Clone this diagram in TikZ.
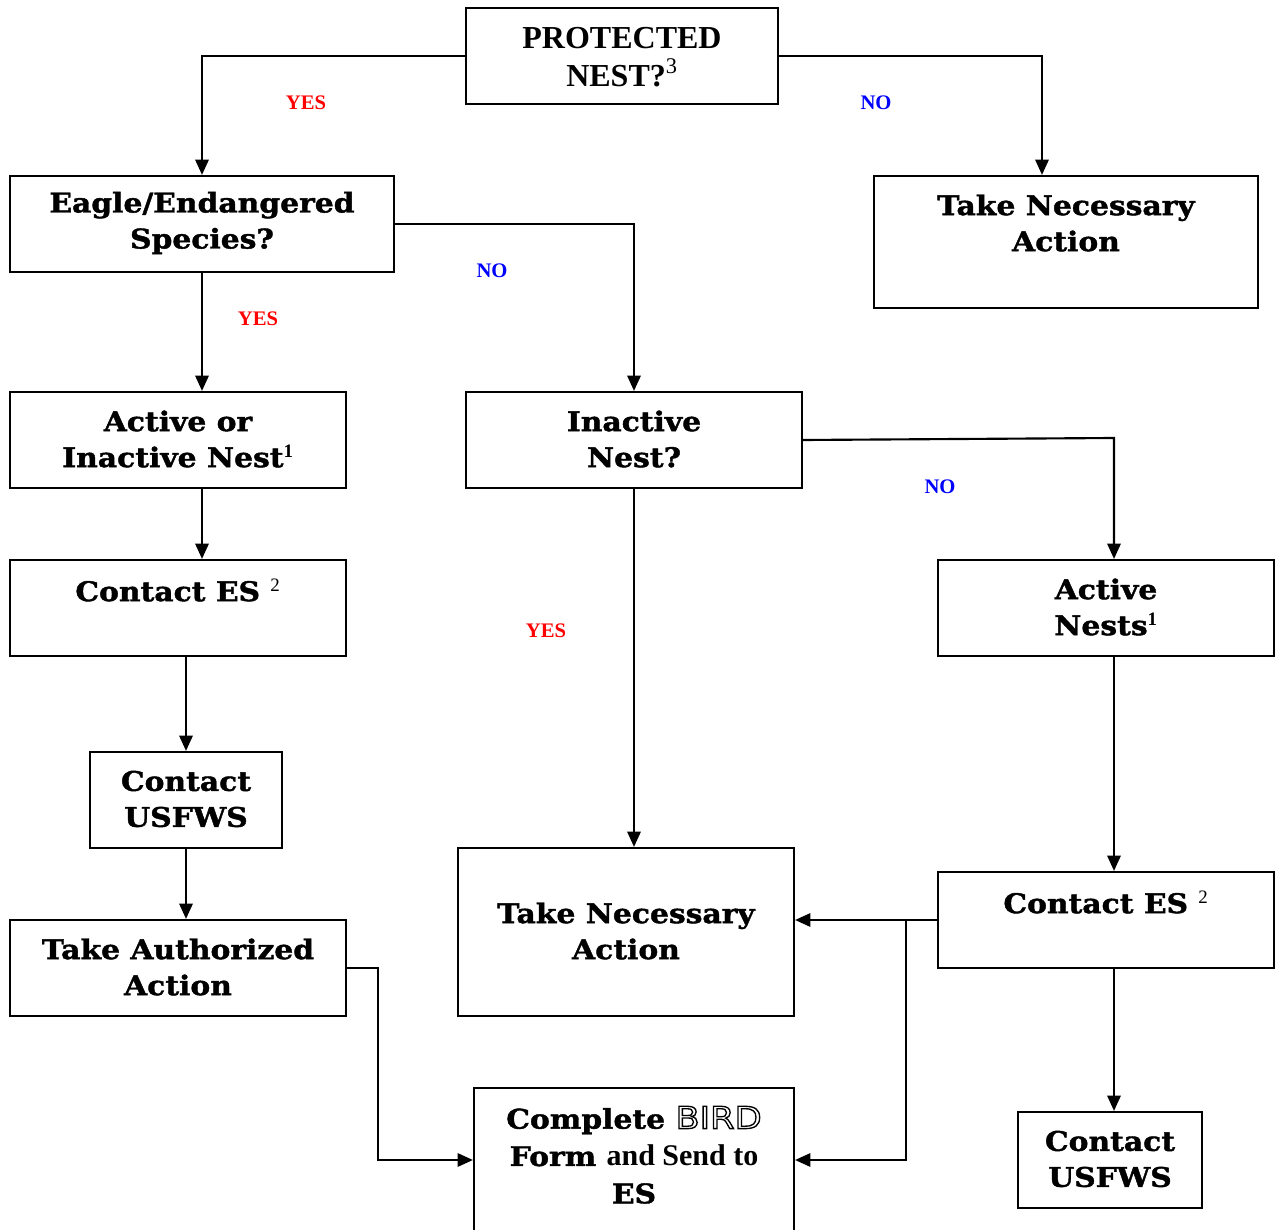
\documentclass[tikz,border=0pt]{standalone}
\usepackage{fontspec}
\usetikzlibrary{arrows.meta,fit}
\newfontfamily\bk{DejaVu Serif}[FakeStretch=1.1,BoldFeatures={FakeBold=1.5}]
\newfontfamily\tm{Liberation Serif}
\newfontfamily\bsans{DejaVu Sans}[FakeStretch=1.15]
\newcommand{\birdword}{{\bsans\mdseries\fontsize{23}{28}\selectfont\special{pdf:code 1 Tr 1.0 w}BIRD\special{pdf:code 0 Tr}}}
\newcommand{\tsup}[1]{\textsuperscript{\tm\mdseries #1}}
\newcommand{\bsup}[1]{\textsuperscript{\tm\bfseries #1}}
\begin{document}
\begin{tikzpicture}[x=0.75pt,y=-0.75pt,
  box/.style={draw,line width=1.6pt,inner sep=0pt},
  btxt/.style={font=\bk\bfseries\fontsize{20.3}{27}\selectfont,align=center,inner sep=0pt},
  ttxt/.style={font=\tm\bfseries\fontsize{24}{28}\selectfont,align=center,inner sep=0pt},
  yes/.style={font=\tm\bfseries\fontsize{15.5}{18}\selectfont,text=red,inner sep=0pt},
  no/.style={font=\tm\bfseries\fontsize{15.5}{18}\selectfont,text=blue,inner sep=0pt},
  arr/.style={line width=1.6pt,-{Triangle[length=11.5pt,width=10pt]}}]
\useasboundingbox (0,0) rectangle (1279,1230);
% boxes
\node[box,fit={(466,8) (778,104)}] (pn) {};
\node[box,fit={(10,176) (394,272)}] (eag) {};
\node[box,fit={(874,176) (1258,308)}] (tna1) {};
\node[box,fit={(10,392) (346,488)}] (aoi) {};
\node[box,fit={(466,392) (802,488)}] (in) {};
\node[box,fit={(10,560) (346,656)}] (ces1) {};
\node[box,fit={(938,560) (1274,656)}] (an) {};
\node[box,fit={(90,752) (282,848)}] (cu1) {};
\node[box,fit={(458,848) (794,1016)}] (tna2) {};
\node[box,fit={(938,872) (1274,968)}] (ces2) {};
\node[box,fit={(10,920) (346,1016)}] (taa) {};
\node[box,fit={(474,1088) (794,1245)}] (cb) {};
\node[box,fit={(1018,1112) (1202,1208)}] (cu2) {};
% texts
\node[ttxt] (tpn) at (622,57) {PROTECTED\\NEST?\tsup{3}};
\node[btxt] (teag) at (202,223) {Eagle/Endangered\\Species?};
\node[btxt] (ttna1) at (1066,223) {Take Necessary\\Action};
\node[btxt] (taoi) at (178,439) {Active or\\Inactive Nest\bsup{1}};
\node[btxt] (tin) at (634,439) {Inactive\\Nest?};
\node[btxt] (tces1) at (178,590) {Contact ES \tsup{2}};
\node[btxt] (tan) at (1106,607) {Active\\Nests\bsup{1}};
\node[btxt] (tcu1) at (186,799) {Contact\\USFWS};
\node[btxt] (ttna2) at (626,931) {Take Necessary\\Action};
\node[btxt] (tces2) at (1106,902) {Contact ES \tsup{2}};
\node[btxt] (ttaa) at (178,967) {Take Authorized\\Action};
\node[btxt,font=\bk\bfseries\fontsize{20.3}{28}\selectfont] (tcb) at (634,1155) {Complete \birdword\\Form {\tm\bfseries\fontsize{22.5}{28}\selectfont and Send to}\\ES};
\node[btxt] (tcu2) at (1110,1159) {Contact\\USFWS};
% labels
\node[yes] (l1) at (306,103) {YES};
\node[no] (l2) at (876,103) {NO};
\node[no] (l3) at (492,271) {NO};
\node[yes] (l4) at (258,319) {YES};
\node[no] (l5) at (940,487) {NO};
\node[yes] (l6) at (546,631) {YES};
% connectors
\draw[arr] (pn.west |- 0,56) -| (eag.north -| 202,0);
\draw[arr] (pn.east |- 0,56) -| (tna1.north -| 1042,0);
\draw[arr] (eag.east |- 0,224) -| (in.north -| 634,0);
\draw[arr] (eag.south -| 202,0) -- (aoi.north -| 202,0);
\draw[arr] (aoi.south -| 202,0) -- (ces1.north -| 202,0);
\draw[arr] (ces1.south -| 186,0) -- (cu1.north -| 186,0);
\draw[arr] (cu1.south -| 186,0) -- (taa.north -| 186,0);
\draw[arr] (taa.east |- 0,968) -- (378,968) |- (cb.west |- 0,1160);
\draw[arr] (in.south -| 634,0) -- (tna2.north -| 634,0);
\draw[arr] (in.east |- 0,440) -- (1114,438) -- (an.north -| 1114,0);
\draw[arr] (an.south -| 1114,0) -- (ces2.north -| 1114,0);
\draw[arr] (ces2.west |- 0,920) -- (tna2.east |- 0,920);
\coordinate (br) at (906,920);
\draw[arr] (br) |- (cb.east |- 0,1160);
\draw[arr] (ces2.south -| 1114,0) -- (cu2.north -| 1114,0);
\end{tikzpicture}
\end{document}
